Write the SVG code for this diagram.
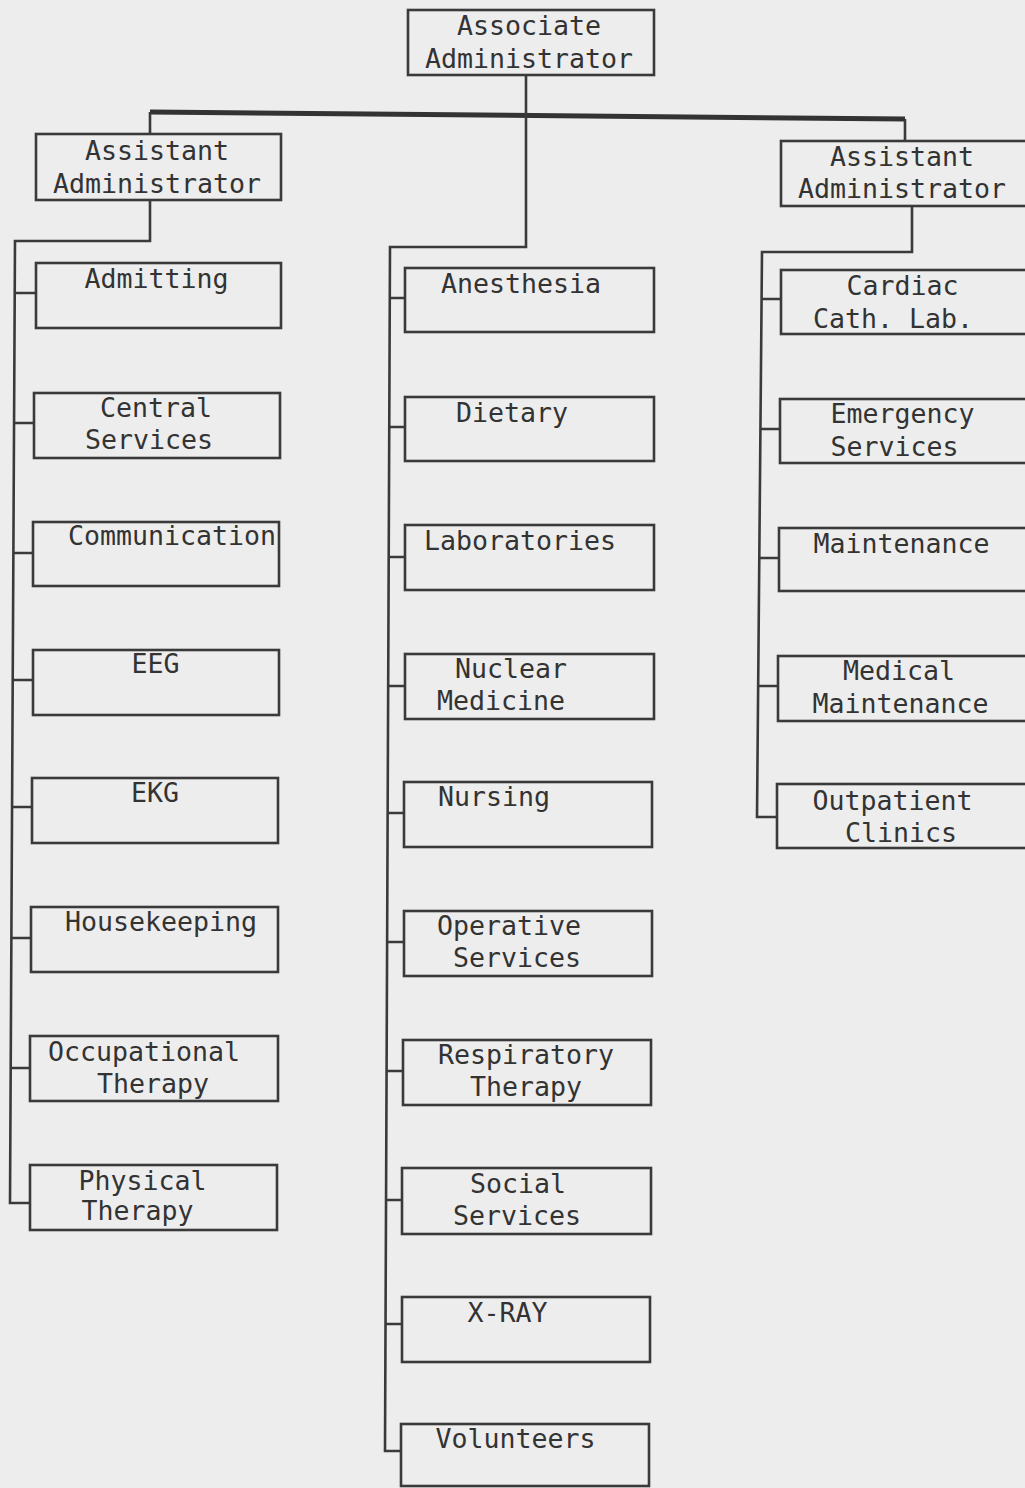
<svg xmlns="http://www.w3.org/2000/svg" width="1025" height="1488" viewBox="0 0 1025 1488">
<style>
.bx{fill:none;stroke:#3a3a3a;stroke-width:2.6}
.cn{fill:none;stroke:#3a3a3a;stroke-width:2.6;stroke-linejoin:miter}
.bar{fill:none;stroke:#333;stroke-width:5}
.t{font-family:"DejaVu Sans Mono","Liberation Mono",monospace;font-size:26.6px;fill:#333;text-anchor:middle}
</style>
<rect x="0" y="0" width="1025" height="1488" fill="#ededed"/>
<g id="connectors">
<path class="bar" d="M150,112 L905,119"/>
<path class="cn" d="M150,112 V134 M905,119 V141"/>
<path class="cn" d="M526,75 V247 H390 L385,1451 H401"/>
<path class="cn" d="M150,200 V241 H15 L10,1203 H30"/>
<path class="cn" d="M912,206 V252 H762 L757,817 H777"/>
<path class="cn" d="M14,293 H36 M14,423 H34 M13,553 H33 M13,680 H33 M12,807 H32 M12,938 H31 M11,1068 H30"/>
<path class="cn" d="M390,298 H405 M389,427 H405 M389,557 H405 M388,686 H405 M388,813 H404 M387,942 H404 M387,1071 H403 M386,1200 H402 M386,1324 H402"/>
<path class="cn" d="M762,299 H781 M761,429 H780 M760,558 H779 M759,686 H778"/>
</g>
<g id="associate-administrator"><rect class="bx" x="408" y="10" width="246" height="65"/><text class="t" x="529" y="35">Associate</text><text class="t" x="529" y="68">Administrator</text></g>
<g id="assistant-administrator-left"><rect class="bx" x="36" y="134" width="245" height="66"/><text class="t" x="157" y="160">Assistant</text><text class="t" x="157" y="193">Administrator</text></g>
<g id="assistant-administrator-right"><rect class="bx" x="781" y="141" width="250" height="65"/><text class="t" x="902" y="166">Assistant</text><text class="t" x="902" y="198">Administrator</text></g>
<g id="admitting"><rect class="bx" x="36" y="263" width="245" height="65"/><text class="t" x="156.5" y="288">Admitting</text></g>
<g id="central-services"><rect class="bx" x="34" y="393" width="246" height="65"/><text class="t" x="156" y="417">Central</text><text class="t" x="149" y="449">Services</text></g>
<g id="communication"><rect class="bx" x="33" y="522" width="246" height="64"/><text class="t" x="172" y="545">Communication</text></g>
<g id="eeg"><rect class="bx" x="33" y="650" width="246" height="65"/><text class="t" x="155.5" y="673">EEG</text></g>
<g id="ekg"><rect class="bx" x="32" y="778" width="246" height="65"/><text class="t" x="155" y="802">EKG</text></g>
<g id="housekeeping"><rect class="bx" x="31" y="907" width="247" height="65"/><text class="t" x="161" y="931">Housekeeping</text></g>
<g id="occupational-therapy"><rect class="bx" x="30" y="1036" width="248" height="65"/><text class="t" x="144" y="1061">Occupational</text><text class="t" x="153" y="1093">Therapy</text></g>
<g id="physical-therapy"><rect class="bx" x="30" y="1165" width="247" height="65"/><text class="t" x="142.5" y="1190">Physical</text><text class="t" x="137.5" y="1220">Therapy</text></g>
<g id="anesthesia"><rect class="bx" x="405" y="268" width="249" height="64"/><text class="t" x="521" y="293">Anesthesia</text></g>
<g id="dietary"><rect class="bx" x="405" y="397" width="249" height="64"/><text class="t" x="512" y="422">Dietary</text></g>
<g id="laboratories"><rect class="bx" x="405" y="525" width="249" height="65"/><text class="t" x="520" y="550">Laboratories</text></g>
<g id="nuclear-medicine"><rect class="bx" x="405" y="654" width="249" height="65"/><text class="t" x="511" y="678">Nuclear</text><text class="t" x="501" y="710">Medicine</text></g>
<g id="nursing"><rect class="bx" x="404" y="782" width="248" height="65"/><text class="t" x="494" y="806">Nursing</text></g>
<g id="operative-services"><rect class="bx" x="404" y="911" width="248" height="65"/><text class="t" x="509" y="935">Operative</text><text class="t" x="517" y="967">Services</text></g>
<g id="respiratory-therapy"><rect class="bx" x="403" y="1040" width="248" height="65"/><text class="t" x="526" y="1064">Respiratory</text><text class="t" x="526" y="1096">Therapy</text></g>
<g id="social-services"><rect class="bx" x="402" y="1168" width="249" height="66"/><text class="t" x="518" y="1193">Social</text><text class="t" x="517" y="1225">Services</text></g>
<g id="x-ray"><rect class="bx" x="402" y="1297" width="248" height="65"/><text class="t" x="507.5" y="1322">X-RAY</text></g>
<g id="volunteers"><rect class="bx" x="401" y="1424" width="248" height="62"/><text class="t" x="515.5" y="1448">Volunteers</text></g>
<g id="cardiac-cath-lab"><rect class="bx" x="781" y="270" width="250" height="64"/><text class="t" x="902.5" y="295">Cardiac</text><text class="t" x="893" y="328">Cath. Lab.</text></g>
<g id="emergency-services"><rect class="bx" x="780" y="399" width="251" height="64"/><text class="t" x="902.5" y="423">Emergency</text><text class="t" x="894.5" y="456">Services</text></g>
<g id="maintenance"><rect class="bx" x="779" y="528" width="252" height="63"/><text class="t" x="901.5" y="553">Maintenance</text></g>
<g id="medical-maintenance"><rect class="bx" x="778" y="656" width="253" height="65"/><text class="t" x="899" y="680">Medical</text><text class="t" x="900.5" y="713">Maintenance</text></g>
<g id="outpatient-clinics"><rect class="bx" x="777" y="784" width="254" height="64"/><text class="t" x="892.5" y="810">Outpatient</text><text class="t" x="901" y="842">Clinics</text></g>
</svg>
